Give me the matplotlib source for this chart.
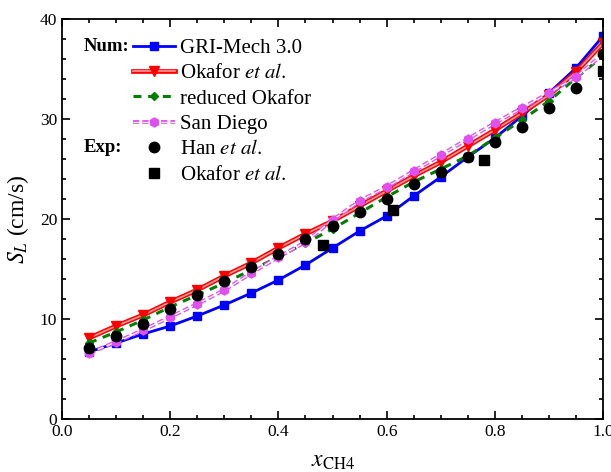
import matplotlib.pyplot as plt
import matplotlib.patheffects as pe
from matplotlib.ticker import MultipleLocator

plt.rcParams['font.family'] = ['Liberation Serif', 'DejaVu Serif']
plt.rcParams['mathtext.fontset'] = 'stix'

# mole fraction of CH4
x = [0.05, 0.10, 0.15, 0.20, 0.25, 0.30, 0.35, 0.40, 0.45, 0.50,
     0.55, 0.60, 0.65, 0.70, 0.75, 0.80, 0.85, 0.90, 0.95, 1.00]

# laminar flame speed, cm/s
gri = [6.7, 7.6, 8.5, 9.3, 10.3, 11.4, 12.6, 13.9, 15.4, 17.1,
       18.8, 20.3, 22.3, 24.2, 26.2, 28.1, 30.3, 32.6, 35.1, 38.3]
okafor = [8.1, 9.3, 10.4, 11.7, 12.9, 14.3, 15.6, 17.1, 18.5, 19.8,
          21.3, 22.8, 24.3, 25.7, 27.3, 28.9, 30.6, 32.4, 34.7, 37.6]
reduced = [7.6, 8.7, 9.9, 11.2, 12.4, 13.6, 14.9, 16.2, 17.6, 19.0,
           20.6, 22.2, 23.7, 25.0, 26.3, 28.1, 29.9, 31.8, 34.1, 36.3]
sandiego = [6.6, 7.7, 8.9, 10.2, 11.5, 12.9, 14.6, 16.2, 17.7, 19.9,
            21.8, 23.2, 24.8, 26.4, 28.0, 29.6, 31.1, 32.6, 34.2, 36.5]

# experiments
han = [7.1, 8.3, 9.5, 11.0, 12.4, 13.8, 15.2, 16.5, 18.0, 19.3,
       20.7, 22.0, 23.5, 24.7, 26.2, 27.7, 29.2, 31.1, 33.1, 36.5]
x_okexp = [0.482, 0.612, 0.780, 1.00]
okexp = [17.4, 20.9, 25.9, 34.8]

magenta = '#e050f0'

fig = plt.figure(figsize=(6.11, 4.72), dpi=100)
ax = fig.add_axes([0.1015, 0.1123, 0.8855, 0.8474])

h_gri, = ax.plot(x, gri, color='#0000ff', lw=2.0, marker='s', ms=5.5)

# double red line with markers drawn on top
l_ok, = ax.plot(x, okafor, color='#ff9a9a', lw=1.2,
                path_effects=[pe.Stroke(linewidth=3.4, foreground='red'), pe.Normal()])
m_ok, = ax.plot(x, okafor, 'v', color='red', ms=6.5)

h_red, = ax.plot(x, reduced, color='#008000', lw=2.2, ls=(0, (2.6, 2.2)), marker='D', ms=4.5)

l_sd, = ax.plot(x, sandiego, color='white', lw=0.9, ls=(0, (5, 2.5)),
                path_effects=[pe.Stroke(linewidth=2.8, foreground=magenta), pe.Normal()])
m_sd, = ax.plot(x, sandiego, 'h', color=magenta, ms=6.5)

h_han, = ax.plot(x, han, 'o', color='black', ms=7.5)
h_okx, = ax.plot(x_okexp, okexp, 's', color='black', ms=6.5)

ax.set_xlim(0, 1.0)
ax.set_ylim(0, 40)
ax.xaxis.set_major_locator(MultipleLocator(0.2))
ax.xaxis.set_minor_locator(MultipleLocator(0.05))
ax.yaxis.set_major_locator(MultipleLocator(10))
ax.yaxis.set_minor_locator(MultipleLocator(2))
ax.tick_params(which='both', direction='in', top=True, right=True, labelsize=12.5, width=1.2)
ax.tick_params(which='major', length=6)
ax.tick_params(which='minor', length=3)
for s in ax.spines.values():
    s.set_linewidth(1.3)

ax.set_xlabel('$x_{\\mathrm{CH4}}$', fontsize=17, labelpad=8)
ax.set_ylabel('$S_L$ (cm/s)', fontsize=17, labelpad=6)

handles = [h_gri, (l_ok, m_ok), h_red, (l_sd, m_sd), h_han, h_okx]
labels = ['GRI-Mech 3.0', 'Okafor $\\it{et\\ al.}$', 'reduced Okafor', 'San Diego',
          'Han $\\it{et\\ al.}$', 'Okafor $\\it{et\\ al.}$']
ax.legend(handles, labels, loc='upper left', bbox_to_anchor=(0.131, 0.952), frameon=False,
          fontsize=15, handlelength=2.0, handletextpad=0.25, labelspacing=0.28,
          borderpad=0, borderaxespad=0)
ax.text(0.041, 0.9325, 'Num:', transform=ax.transAxes, fontsize=13.5, fontweight='bold', va='center')
ax.text(0.041, 0.68, 'Exp:', transform=ax.transAxes, fontsize=13.5, fontweight='bold', va='center')

fig.savefig('out.png', dpi=100)
